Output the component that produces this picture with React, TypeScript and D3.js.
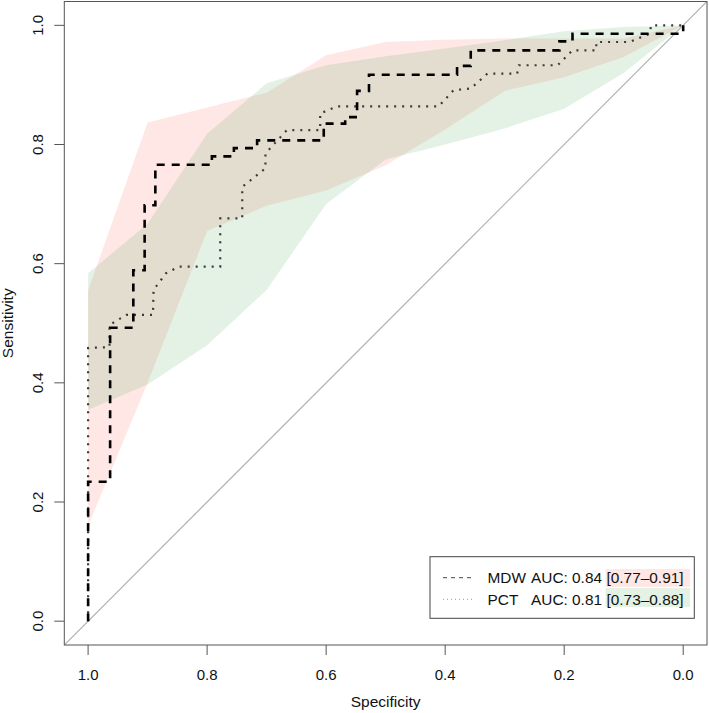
import React from "react";
import * as d3 from "d3";

// ROC step curves (specificity, sensitivity)
const mdwSpec = [1.0, 1.0, 0.963, 0.963, 0.924, 0.924, 0.905, 0.905, 0.887, 0.887, 0.792, 0.792, 0.755, 0.755, 0.716, 0.716, 0.604, 0.604, 0.568, 0.568, 0.548, 0.548, 0.528, 0.528, 0.38, 0.38, 0.357, 0.357, 0.208, 0.208, 0.186, 0.186, 0.0, 0.0];
const mdwSens = [0.0, 0.234, 0.234, 0.4925, 0.4925, 0.589, 0.589, 0.698, 0.698, 0.766, 0.766, 0.78, 0.78, 0.794, 0.794, 0.807, 0.807, 0.835, 0.835, 0.846, 0.846, 0.89, 0.89, 0.917, 0.917, 0.932, 0.932, 0.958, 0.958, 0.973, 0.973, 0.986, 0.986, 1.0];

const pctSpec = [1.0, 1.0, 0.964, 0.964, 0.936, 0.891, 0.89, 0.869, 0.847, 0.778, 0.778, 0.741, 0.741, 0.702, 0.702, 0.666, 0.61, 0.61, 0.582, 0.411, 0.386, 0.357, 0.329, 0.279, 0.276, 0.211, 0.186, 0.146, 0.146, 0.09, 0.056, 0.054, 0.0];
const pctSens = [0.0, 0.4585, 0.46, 0.497, 0.514, 0.514, 0.556, 0.584, 0.595, 0.595, 0.676, 0.676, 0.729, 0.76, 0.785, 0.824, 0.824, 0.852, 0.864, 0.864, 0.891, 0.894, 0.919, 0.919, 0.933, 0.933, 0.958, 0.958, 0.972, 0.972, 0.986, 1.0, 1.0];

// Confidence bands of sensitivity at fixed specificities
const bandSpec = [1.0, 0.9, 0.8, 0.7, 0.6, 0.5, 0.4, 0.3, 0.2, 0.1, 0.0];
const mdwLower = [0.16, 0.4, 0.655, 0.697, 0.723, 0.765, 0.825, 0.89, 0.913, 0.947, 1.0];
const mdwUpper = [0.555, 0.837, 0.862, 0.887, 0.95, 0.972, 0.976, 0.978, 0.978, 0.978, 1.0];
const pctLower = [0.355, 0.397, 0.463, 0.556, 0.7, 0.775, 0.8, 0.827, 0.86, 0.92, 1.0];
const pctUpper = [0.584, 0.667, 0.818, 0.903, 0.933, 0.948, 0.961, 0.975, 0.99, 0.997, 1.0];

const ticks = [1.0, 0.8, 0.6, 0.4, 0.2, 0.0];
const legendNames = ["MDW", "PCT"];
const legendAuc = ["AUC: 0.84", "AUC: 0.81"];
const legendCi = ["[0.77\u20130.91]", "[0.73\u20130.88]"];

const FONT = "'Liberation Sans', Arial, Helvetica, sans-serif";

export default function App() {
  const W = 709, H = 713;
  const x = d3.scaleLinear().domain([1.04, -0.04]).range([64.3, 707]);
  const y = d3.scaleLinear().domain([-0.04, 1.04]).range([645, 1.5]);

  const pink = "rgb(250,128,114)";
  const green = "rgb(120,185,125)";

  const band = (lo: number[], hi: number[]) =>
    d3
      .area<number>()
      .x((_, i) => x(bandSpec[i]))
      .y0((_, i) => y(lo[i]))
      .y1((_, i) => y(hi[i]))(bandSpec) as string;

  const line = (sp: number[], se: number[]) =>
    d3
      .line<number>()
      .x((_, i) => x(sp[i]))
      .y((_, i) => y(se[i]))(sp) as string;

  const x0 = x.range()[0], x1 = x.range()[1];
  const yTop = y.range()[1], yBot = y.range()[0];

  return (
    <div style={{ position: "absolute", left: 0, top: 0 }}>
      <svg width={W} height={H} style={{ display: "block", background: "#fff" }} fontFamily={FONT}>
        <defs>
          <clipPath id="plotclip">
            <rect x={x0} y={yTop} width={x1 - x0} height={yBot - yTop} />
          </clipPath>
        </defs>
        <g clipPath="url(#plotclip)">
          <path d={band(mdwLower, mdwUpper)} fill={pink} fillOpacity={0.19} />
          <path d={band(pctLower, pctUpper)} fill={green} fillOpacity={0.2} />
          <line x1={x(1.04)} y1={y(-0.04)} x2={x(-0.04)} y2={y(1.04)} stroke="#b0b0b0" strokeWidth={1.2} />
          <path d={line(pctSpec, pctSens)} fill="none" stroke="#3a3a3a" strokeWidth={2.2} strokeDasharray="2 6" />
          <path d={line(mdwSpec, mdwSens)} fill="none" stroke="#000" strokeWidth={2.6} strokeDasharray="8 7" />
        </g>
        <rect x={x0} y={yTop} width={x1 - x0} height={yBot - yTop} fill="none" stroke="#555" strokeWidth={1} />

        {/* x axis */}
        {ticks.map((t) => (
          <g key={"x" + t}>
            <line x1={x(t)} x2={x(t)} y1={yBot} y2={yBot + 10} stroke="#555" />
            <text x={x(t)} y={680} textAnchor="middle" fontSize={15} fill="#111">
              {t.toFixed(1)}
            </text>
          </g>
        ))}
        <text x={(x0 + x1) / 2} y={707} textAnchor="middle" fontSize={15.5} fill="#111">
          Specificity
        </text>

        {/* y axis */}
        {ticks.map((t) => (
          <g key={"y" + t}>
            <line x1={x0} x2={x0 - 10} y1={y(t)} y2={y(t)} stroke="#555" />
            <text
              transform={`translate(43,${y(t)}) rotate(-90)`}
              textAnchor="middle"
              fontSize={15}
              fill="#111"
            >
              {t.toFixed(1)}
            </text>
          </g>
        ))}
        <text
          transform={`translate(13,${(yTop + yBot) / 2}) rotate(-90)`}
          textAnchor="middle"
          fontSize={15.5}
          fill="#111"
        >
          Sensitivity
        </text>

        {/* legend */}
        <rect x={430} y={556.7} width={264.3} height={61.6} fill="#fff" stroke="#444" strokeWidth={1} />
        <rect x={605.5} y={569} width={84.5} height={18} fill={pink} fillOpacity={0.19} />
        <rect x={605.5} y={588} width={84.5} height={19} fill={green} fillOpacity={0.2} />
        <line x1={443} x2={473} y1={577.7} y2={577.7} stroke="#444" strokeWidth={1} strokeDasharray="4 4" />
        <line x1={443} x2={473} y1={599.3} y2={599.3} stroke="#999" strokeWidth={1} strokeDasharray="1 3" />
        {legendNames.map((n, i) => (
          <g key={n} fontSize={15.4} fill="#111">
            <text x={487.5} y={583 + i * 21.6}>{n}</text>
            <text x={531} y={583 + i * 21.6}>{legendAuc[i]}</text>
            <text x={606.5} y={583 + i * 21.6}>{legendCi[i]}</text>
          </g>
        ))}
      </svg>
    </div>
  );
}
